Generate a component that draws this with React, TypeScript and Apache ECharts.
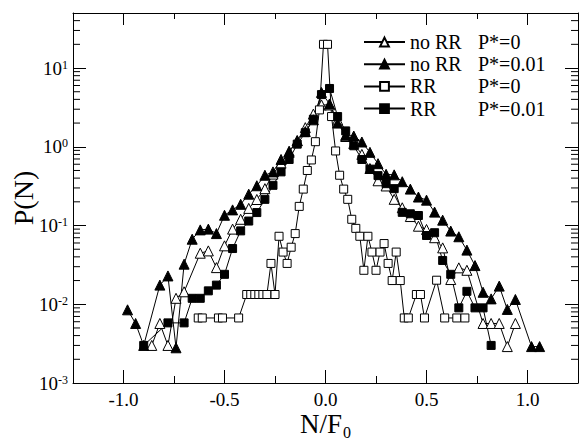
import React, { useEffect, useRef } from 'react';
import * as echarts from 'echarts';

// ---- axis ranges ----
const X_MIN = -1.25;
const X_MAX = 1.25;
const Y_MIN = 0.001;
const Y_MAX = 50;

// ---- legend / series names ----
const seriesNames = ['no RR P*=0', 'no RR P*=0.01', 'RR P*=0', 'RR P*=0.01'];
const legendPrefix = ['no RR', 'no RR', 'RR', 'RR'];
const legendSuffix = ['P*=0', 'P*=0.01', 'P*=0', 'P*=0.01'];

// ---- no RR, P*=0 (open triangles) ----
const noRR0_x = [-0.86, -0.82, -0.78, -0.74, -0.70, -0.62, -0.58, -0.54, -0.50, -0.46, -0.42, -0.38, -0.34, -0.30, -0.26, -0.22, -0.18, -0.14, -0.10, -0.06, -0.02, 0.02, 0.06, 0.10, 0.14, 0.18, 0.22, 0.26, 0.30, 0.34, 0.38, 0.42, 0.46, 0.50, 0.54, 0.58, 0.62, 0.66, 0.70, 0.78, 0.82, 0.86, 0.90, 0.94];
const noRR0_y = [0.0030, 0.0057, 0.0030, 0.0119, 0.0144, 0.0445, 0.0476, 0.0292, 0.0552, 0.090, 0.12, 0.165, 0.214, 0.294, 0.45, 0.62, 0.85, 1.2, 1.75, 2.6, 3.4, 3.4, 2.2, 1.35, 1.1, 0.8, 0.53, 0.37, 0.318, 0.215, 0.168, 0.13, 0.098, 0.089, 0.07, 0.052, 0.0206, 0.029, 0.027, 0.0057, 0.0057, 0.0057, 0.0029, 0.0057];

// ---- no RR, P*=0.01 (filled triangles) ----
const noRR1_x = [-0.98, -0.94, -0.90, -0.82, -0.78, -0.74, -0.70, -0.66, -0.62, -0.58, -0.54, -0.50, -0.46, -0.42, -0.38, -0.34, -0.30, -0.26, -0.22, -0.18, -0.14, -0.10, -0.06, -0.02, 0.02, 0.06, 0.10, 0.14, 0.18, 0.22, 0.26, 0.30, 0.34, 0.38, 0.42, 0.46, 0.50, 0.54, 0.58, 0.62, 0.66, 0.70, 0.74, 0.78, 0.82, 0.86, 0.90, 0.94, 1.02, 1.06];
const noRR1_y = [0.0085, 0.0057, 0.0030, 0.0175, 0.0229, 0.0028, 0.0323, 0.067, 0.088, 0.090, 0.079, 0.135, 0.158, 0.186, 0.25, 0.32, 0.435, 0.48, 0.69, 0.88, 1.19, 1.56, 2.2, 4.9, 3.5, 2.0, 1.40, 1.37, 1.15, 0.85, 0.61, 0.447, 0.44, 0.36, 0.29, 0.23, 0.21, 0.148, 0.117, 0.085, 0.072, 0.0487, 0.031, 0.0142, 0.0117, 0.017, 0.0086, 0.0115, 0.0029, 0.0029];

// ---- RR, P*=0 (open squares) ----
const rr0_x = [-0.63, -0.61, -0.53, -0.51, -0.43, -0.39, -0.37, -0.35, -0.33, -0.31, -0.29, -0.27, -0.25, -0.23, -0.21, -0.19, -0.17, -0.15, -0.13, -0.11, -0.09, -0.07, -0.05, -0.03, -0.01, 0.01, 0.03, 0.05, 0.07, 0.09, 0.11, 0.13, 0.15, 0.17, 0.19, 0.21, 0.23, 0.25, 0.27, 0.29, 0.31, 0.33, 0.35, 0.37, 0.39, 0.41, 0.45, 0.47, 0.49, 0.55, 0.59, 0.65, 0.69];
const rr0_y = [0.0067, 0.0067, 0.0067, 0.0067, 0.0067, 0.0133, 0.0133, 0.0133, 0.0133, 0.0133, 0.0133, 0.033, 0.0133, 0.073, 0.046, 0.033, 0.053, 0.079, 0.175, 0.29, 0.50, 0.68, 1.16, 2.94, 20.0, 20.0, 2.42, 0.885, 0.435, 0.29, 0.215, 0.12, 0.092, 0.073, 0.027, 0.073, 0.046, 0.027, 0.046, 0.059, 0.033, 0.020, 0.046, 0.020, 0.0067, 0.0067, 0.0133, 0.0133, 0.0067, 0.0202, 0.0067, 0.0067, 0.0067];

// ---- RR, P*=0.01 (filled squares) ----
const rr1_x = [-0.90, -0.78, -0.70, -0.66, -0.62, -0.58, -0.54, -0.50, -0.46, -0.42, -0.38, -0.34, -0.30, -0.26, -0.22, -0.18, -0.14, -0.10, -0.06, -0.02, 0.02, 0.06, 0.10, 0.14, 0.18, 0.22, 0.26, 0.30, 0.34, 0.38, 0.42, 0.46, 0.50, 0.54, 0.58, 0.62, 0.66, 0.70, 0.74, 0.78, 0.82];
const rr1_y = [0.0030, 0.0058, 0.0058, 0.0119, 0.0119, 0.0148, 0.0175, 0.024, 0.051, 0.0855, 0.114, 0.146, 0.215, 0.324, 0.48, 0.69, 1.08, 1.51, 2.24, 4.6, 5.5, 2.42, 1.59, 1.03, 0.69, 0.52, 0.43, 0.34, 0.294, 0.147, 0.141, 0.134, 0.0747, 0.081, 0.036, 0.024, 0.009, 0.0146, 0.009, 0.009, 0.003];

// ---- log-axis minor tick positions ----
const yMinorTicks = [
  0.002, 0.003, 0.004, 0.005, 0.006, 0.007, 0.008, 0.009,
  0.02, 0.03, 0.04, 0.05, 0.06, 0.07, 0.08, 0.09,
  0.2, 0.3, 0.4, 0.5, 0.6, 0.7, 0.8, 0.9,
  2, 3, 4, 5, 6, 7, 8, 9,
  20, 30, 40,
];

const FONT = 'Liberation Serif, serif';

export default function App() {
  const ref = useRef<HTMLDivElement>(null);

  useEffect(() => {
    if (!ref.current) return;
    const chart = echarts.init(ref.current, null, { renderer: 'svg' });

    const zip = (xs: number[], ys: number[]) => xs.map((x, i) => [x, ys[i]]);
    const lineSeries = (name: string, data: number[][], symbol: string, size: number, filled: boolean) => ({
      name,
      type: 'line',
      data,
      symbol,
      symbolSize: size,
      showSymbol: true,
      showAllSymbol: true,
      xAxisIndex: 0,
      yAxisIndex: 0,
      lineStyle: { color: '#000', width: 1 },
      itemStyle: { color: filled ? '#000' : '#fff', borderColor: '#000', borderWidth: 1 },
      emphasis: { disabled: true },
      clip: false,
      z: 3,
    });

    const black = { color: '#000', width: 1 };

    const option: any = {
      animation: false,
      backgroundColor: '#fff',
      textStyle: { fontFamily: FONT, color: '#000' },
      grid: { left: 73, right: 1, top: 13, bottom: 56, containLabel: false, outerBoundsMode: 'none' },
      legend: {
        data: seriesNames,
        orient: 'vertical',
        left: 363,
        top: 32,
        padding: 0,
        itemGap: 2.2,
        itemWidth: 41,
        itemHeight: 11,
        selectedMode: false,
        formatter: (name: string) => {
          const i = seriesNames.indexOf(name);
          return `{a|${legendPrefix[i]}}{b|${legendSuffix[i]}}`;
        },
        textStyle: {
          color: '#000',
          fontFamily: FONT,
          fontSize: 20,
          lineHeight: 20,
          rich: {
            a: { width: 68, fontFamily: FONT, fontSize: 20, lineHeight: 20, color: '#000' },
            b: { fontFamily: FONT, fontSize: 20, lineHeight: 20, color: '#000' },
          },
        },
      },
      xAxis: [
        {
          type: 'value',
          min: X_MIN,
          max: X_MAX,
          splitNumber: 5,
          position: 'bottom',
          axisLine: { show: true, onZero: false, lineStyle: black },
          axisTick: { show: true, inside: true, length: 13, lineStyle: black },
          minorTick: { show: true, splitNumber: 2, length: 7, lineStyle: black },
          splitLine: { show: false },
          minorSplitLine: { show: false },
          axisLabel: {
            color: '#000',
            fontFamily: FONT,
            fontSize: 19,
            margin: 7,
            showMinLabel: false,
            showMaxLabel: false,
            formatter: (v: number) => v.toFixed(1),
          },
          name: '{n|N/F}{sub|0}',
          nameLocation: 'middle',
          nameGap: 27,
          nameMoveOverlap: false,
          nameTextStyle: {
            color: '#000',
            fontFamily: FONT,
            fontSize: 27,
            rich: {
              n: { fontFamily: FONT, fontSize: 27, color: '#000', verticalAlign: 'top' },
              sub: { fontFamily: FONT, fontSize: 16, color: '#000', verticalAlign: 'top', padding: [14, 0, 0, 1] },
            },
          },
        },
        {
          type: 'value',
          min: X_MIN,
          max: X_MAX,
          splitNumber: 5,
          position: 'top',
          axisLine: { show: true, onZero: false, lineStyle: black },
          axisTick: { show: true, inside: true, length: 12, lineStyle: black },
          minorTick: { show: true, splitNumber: 2, length: 6, lineStyle: black },
          splitLine: { show: false },
          axisLabel: { show: false },
        },
      ],
      yAxis: [
        {
          type: 'log',
          logBase: 10,
          min: Y_MIN,
          max: Y_MAX,
          position: 'left',
          axisLine: { show: true, onZero: false, lineStyle: black },
          axisTick: { show: true, inside: true, length: 13, lineStyle: black },
          minorTick: { show: false },
          splitLine: { show: false },
          axisLabel: {
            color: '#000',
            fontFamily: FONT,
            fontSize: 19,
            margin: 5,
            showMaxLabel: false,
            formatter: (v: number) => {
              const l = Math.log10(v);
              const e = Math.round(l);
              if (Math.abs(l - e) > 1e-6) return '';
              return `{b|10}{s|${e}}`;
            },
            rich: {
              b: { fontFamily: FONT, fontSize: 19, color: '#000' },
              s: { fontFamily: FONT, fontSize: 12, color: '#000', verticalAlign: 'top' },
            },
          },
          name: 'P(N)',
          nameLocation: 'middle',
          nameGap: 36,
          nameRotate: 90,
          nameMoveOverlap: false,
          nameTextStyle: { color: '#000', fontFamily: FONT, fontSize: 28 },
        },
        {
          type: 'log',
          logBase: 10,
          min: Y_MIN,
          max: Y_MAX,
          position: 'right',
          axisLine: { show: true, onZero: false, lineStyle: black },
          axisTick: { show: true, inside: true, length: 13, lineStyle: black },
          minorTick: { show: false },
          splitLine: { show: false },
          axisLabel: { show: false },
        },
      ],
      series: [
        {
          type: 'custom',
          name: 'yMinorTicks',
          coordinateSystem: 'cartesian2d',
          xAxisIndex: 0,
          yAxisIndex: 0,
          silent: true,
          clip: false,
          z: 5,
          data: yMinorTicks.map((v) => [X_MIN, v]),
          renderItem: (_params: any, api: any) => {
            const v = api.value(1);
            const l = api.coord([X_MIN, v]);
            const r = api.coord([X_MAX, v]);
            return {
              type: 'group',
              children: [
                { type: 'line', shape: { x1: l[0], y1: l[1], x2: l[0] + 7, y2: l[1] }, style: { stroke: '#000', lineWidth: 1 } },
                { type: 'line', shape: { x1: r[0], y1: r[1], x2: r[0] - 7, y2: r[1] }, style: { stroke: '#000', lineWidth: 1 } },
              ],
            };
          },
        },
        lineSeries(seriesNames[0], zip(noRR0_x, noRR0_y), 'triangle', 10, false),
        lineSeries(seriesNames[1], zip(noRR1_x, noRR1_y), 'triangle', 10, true),
        lineSeries(seriesNames[2], zip(rr0_x, rr0_y), 'rect', 8, false),
        lineSeries(seriesNames[3], zip(rr1_x, rr1_y), 'rect', 8, true),
      ],
    };

    chart.setOption(option);
    return () => chart.dispose();
  }, []);

  return <div ref={ref} style={{ position: 'absolute', left: 0, top: 0, width: 579, height: 439 }} />;
}
